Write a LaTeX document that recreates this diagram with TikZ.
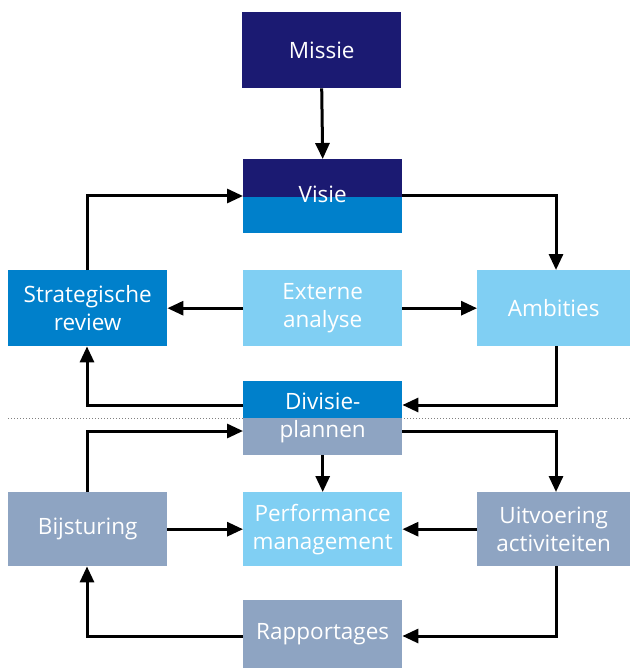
\documentclass[tikz,border=0pt]{standalone}
\usepackage{fontspec}
\setmainfont{Open Sans}
\usetikzlibrary{arrows.meta}
\definecolor{navy}{HTML}{1B1A72}
\definecolor{midblue}{HTML}{0080CB}
\definecolor{lightblue}{HTML}{80CFF3}
\definecolor{greyblue}{HTML}{8EA4C2}
\begin{document}
\begin{tikzpicture}[x=1pt,y=-1pt,
  box/.style={minimum width=159pt,minimum height=76pt,inner sep=0pt,text=white,
    font=\fontsize{22.5}{28}\selectfont,align=center,anchor=north west},
  conn/.style={line width=3pt,-{Triangle[length=16pt,width=14pt]}}]
\useasboundingbox (0,0) rectangle (630,668);
\draw[dotted,gray,line width=1pt] (8,418) -- (630,418);
% boxes
\node[box,fill=navy] (missie) at (242,12) {Missie};
\fill[navy] (243,159) rectangle (402,197);
\fill[midblue] (243,197) rectangle (402,233);
\node[box,minimum height=70pt] (visie) at (243,159) {Visie};
\node[box,fill=midblue] (strat) at (8,270) {Strategische\\review};
\node[box,fill=lightblue] (ext) at (243,270) {Externe\\analyse};
\node[box,fill=lightblue,minimum width=153pt] (amb) at (477,270) {Ambities};
\fill[midblue] (243,381) rectangle (402,418);
\fill[greyblue] (243,418) rectangle (402,455);
\node[box,minimum height=74pt] (div) at (243,381) {Divisie-\\plannen};
\node[box,fill=greyblue,minimum height=74pt] (bij) at (8,492) {Bijsturing};
\node[box,fill=lightblue,minimum height=74pt] (perf) at (243,492) {Performance\\management};
\node[box,fill=greyblue,minimum width=153pt,minimum height=74pt] (uit) at (477,492) {Uitvoering\\activiteiten};
\node[box,fill=greyblue,minimum height=68pt] (rap) at (243,600) {Rapportages};
% coordinates
\coordinate (c1) at (87,196);
\coordinate (c2) at (556,196);
\coordinate (c3) at (556,405);
\coordinate (c4) at (87,405);
\coordinate (c5) at (87,431);
\coordinate (c6) at (556,431);
\coordinate (c7) at (556,636);
\coordinate (c8) at (87,636);
% connectors
\draw[conn] (missie.south) -- (visie.north);
\draw[conn] (strat.north -| c1) -- (c1) -- (visie.west |- c1);
\draw[conn] (visie.east |- c2) -- (c2) -- (amb.north -| c2);
\draw[conn] (ext.west) -- (strat.east);
\draw[conn] (ext.east) -- (amb.west);
\draw[conn] (amb.south -| c3) -- (c3) -- (div.east |- c3);
\draw[conn] (div.west |- c4) -- (c4) -- (strat.south -| c4);
\draw[conn] (bij.north -| c5) -- (c5) -- (div.west |- c5);
\draw[conn] (div.east |- c6) -- (c6) -- (uit.north -| c6);
\draw[conn] (div.south) -- (perf.north);
\draw[conn] (bij.east) -- (perf.west);
\draw[conn] (uit.west) -- (perf.east);
\draw[conn] (uit.south -| c7) -- (c7) -- (rap.east |- c7);
\draw[conn] (rap.west |- c8) -- (c8) -- (bij.south -| c8);
\end{tikzpicture}
\end{document}
